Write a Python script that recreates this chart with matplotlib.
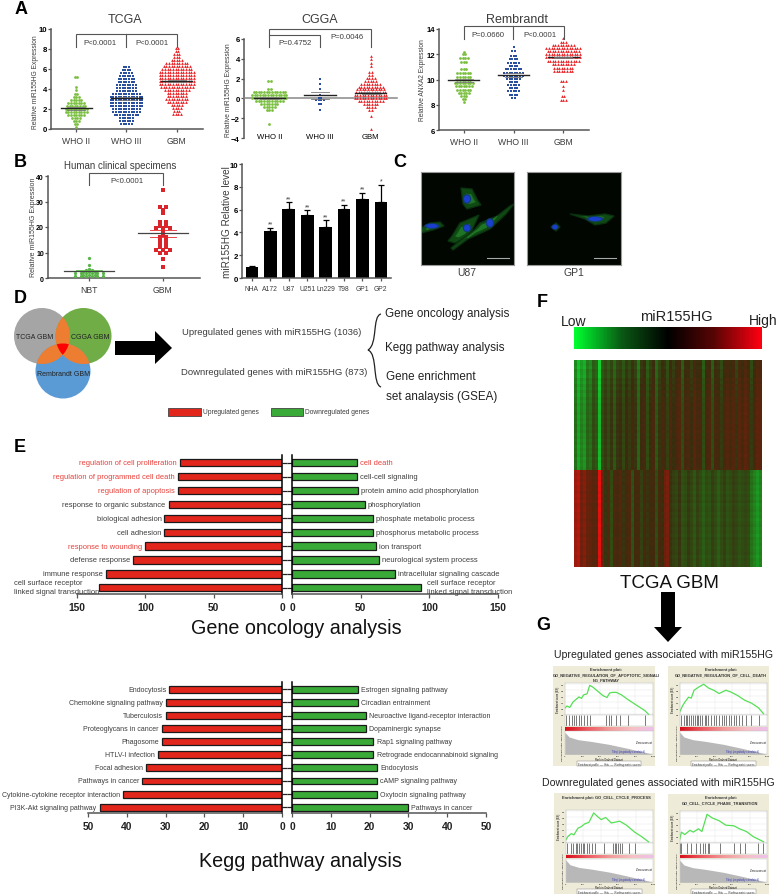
import matplotlib
matplotlib.use("Agg")
import matplotlib.pyplot as plt
import numpy as np
from matplotlib.colors import LinearSegmentedColormap
from matplotlib.patches import Circle, Ellipse, Polygon, Rectangle, PathPatch
from matplotlib.path import Path

plt.rcParams['font.family'] = ['Liberation Sans', 'DejaVu Sans']

W, H = 778, 895
GREEN, BLUE, RED = '#7ABF3F', '#2A4F9E', '#E8262A'
TXT = '#3c3c3c'
AX = '#555555'

groups = ['WHO II', 'WHO III', 'GBM']

# swarm rows: row level and number of points on it
tcga2_lv = [0.2, 0.5, 0.8, 1.1, 1.4, 1.7, 2.0, 2.3, 2.6, 2.9, 3.2, 3.5, 3.9, 4.2, 5.2]
tcga2_n = [1, 2, 3, 4, 7, 9, 9, 8, 7, 5, 3, 2, 1, 1, 2]
tcga3_lv = [0.5, 0.8, 1.1, 1.4, 1.7, 2.0, 2.3, 2.6, 2.9, 3.2, 3.5, 3.8, 4.1, 4.4, 4.7, 5.0, 5.3, 5.6, 5.9, 6.2]
tcga3_n = [5, 6, 6, 10, 11, 11, 13, 13, 13, 13, 11, 8, 8, 8, 7, 7, 6, 5, 4, 3]
tcgag_lv = [1.5, 1.8, 2.1, 2.4, 2.7, 3.0, 3.3, 3.6, 3.9, 4.2, 4.5, 4.8, 5.1, 5.4, 5.7, 6.0, 6.3, 6.6, 6.9, 7.2, 7.5, 7.8, 8.1]
tcgag_n = [4, 3, 4, 5, 8, 9, 8, 8, 10, 13, 14, 14, 14, 14, 14, 12, 11, 9, 5, 3, 3, 2, 2]
tcga_means = [2.05, 3.05, 4.8]

cgga2_lv = [-2.6, -1.2, -0.9, -0.6, -0.3, 0.0, 0.3, 0.6, 0.9, 1.8]
cgga2_n = [1, 3, 5, 7, 11, 14, 14, 13, 2, 2]
cgga3_lv = [-1.15, -0.55, -0.2, 0.0, 0.3, 0.9, 1.5, 2.0]
cgga3_n = [1, 2, 4, 2, 1, 1, 1, 1]
cggag_lv = [-3.1, -1.8, -1.2, -0.9, -0.6, -0.3, 0.0, 0.3, 0.6, 0.9, 1.2, 1.5, 1.8, 2.1, 2.4, 2.7, 3.3, 3.6, 4.0, 4.3]
cggag_n = [1, 1, 2, 4, 6, 10, 13, 13, 12, 11, 10, 8, 5, 4, 2, 2, 1, 1, 1, 1]
cgga_means = [0.05, 0.3, 0.55]

remb2_lv = [8.2, 8.45, 8.7, 8.95, 9.2, 9.45, 9.7, 9.95, 10.2, 10.5, 10.8, 11.4, 11.7, 12.0, 12.2]
remb2_n = [1, 2, 3, 5, 6, 7, 8, 6, 6, 6, 3, 3, 4, 2, 1]
remb3_lv = [8.55, 8.8, 9.05, 9.3, 9.55, 9.8, 10.05, 10.3, 10.55, 10.8, 11.05, 11.3, 11.6, 11.9, 12.25, 12.6]
remb3_n = [2, 4, 5, 4, 5, 4, 6, 8, 8, 7, 4, 5, 4, 3, 2, 1]
rembg_lv = [8.4, 8.7, 9.2, 9.5, 9.9, 10.65, 10.95, 11.25, 11.5, 11.75, 12.0, 12.25, 12.5, 12.75, 13.0, 13.25]
rembg_n = [3, 2, 1, 1, 3, 8, 8, 9, 13, 14, 14, 13, 14, 9, 3, 1]
remb_means = [9.95, 10.35, 11.75]

nbt_lv = [0.8, 1.3, 1.9, 2.4, 3.0, 3.5, 5.0, 8.0]
nbt_n = [6, 3, 6, 3, 2, 1, 1, 1]
gbm_lv = [4.2, 7.6, 9.8, 11.0, 12.0, 13.0, 14.0, 15.0, 16.0, 17.0, 18.0, 19.5, 20.5, 22.0, 25.5, 26.5, 28.0, 34.5]
gbm_n = [1, 1, 2, 3, 2, 2, 2, 2, 2, 1, 1, 3, 2, 2, 1, 1, 2, 1]

cell_lines = ['NHA', 'A172', 'U87', 'U251', 'Ln229', 'T98', 'GP1', 'GP2']
cell_vals = [1.0, 4.1, 6.05, 5.5, 4.5, 6.05, 6.95, 6.7]
cell_errs = [0.05, 0.3, 0.6, 0.45, 0.55, 0.35, 0.55, 1.45]
cell_stars = ['', '**', '**', '**', '**', '**', '**', '*']

go_up_names = ['regulation of cell proliferation', 'regulation of programmed cell death', 'regulation of apoptosis',
               'response to organic substance', 'biological adhesion', 'cell adhesion', 'response to wounding',
               'defense response', 'immune response', 'cell surface receptor\nlinked signal transduction']
go_up_vals = [75, 76, 76, 83, 86, 86, 100, 109, 129, 134]
go_up_hot = [0, 1, 2, 6]
go_dn_names = ['cell death', 'cell-cell signaling', 'protein amino acid phosphorylation', 'phosphorylation',
               'phosphate metabolic process', 'phosphorus metabolic process', 'ion transport',
               'neurological system process', 'intracellular signaling cascade',
               'cell surface receptor\nlinked signal transduction']
go_dn_vals = [47, 47, 48, 53, 59, 59, 61, 63, 75, 94]
go_dn_hot = [0]

kegg_up_names = ['Endocytosis', 'Chemokine signaling pathway', 'Tuberculosis', 'Proteoglycans in cancer', 'Phagosome',
                 'HTLV-I infection', 'Focal adhesion', 'Pathways in cancer', 'Cytokine-cytokine receptor interaction',
                 'PI3K-Akt signaling pathway']
kegg_up_vals = [29, 30, 30, 31, 31, 32, 35, 36, 41, 47]
kegg_dn_names = ['Estrogen signaling pathway', 'Circadian entrainment', 'Neuroactive ligand-receptor interaction',
                 'Dopaminergic synapse', 'Rap1 signaling pathway', 'Retrograde endocannabinoid signaling',
                 'Endocytosis', 'cAMP signaling pathway', 'Oxytocin signaling pathway', 'Pathways in cancer']
kegg_dn_vals = [17, 17, 19, 19, 21, 21, 22, 22, 22, 30]

# heatmap column levels, -1 green, +1 red
heat_up_cols = [-.6, -.9, -.7, -.8, -.5, -.6, -.3, -.4, -1.0, -.3, -.15, -.3, -.1, -.4, -.1, -.05, -.25, .0, -.15, .05,
                -.1, -.5, .0, .1, -.3, -.05, .1, -.4, -.1, .1, .05, -.2, .15, -.05, .1, .2, -.3, .1, .15, -.05, .25, .1,
                .1, -.3, .1, .15, -.3, .1, .05, -.15, .1, .2, .1, .2, -.1, .25, .1, .3, .15, -.15, .1, .3, .25]
heat_dn_cols = [.7, .8, .5, .6, .4, .35, .25, .3, 1.0, .5, -.1, .2, -.3, .15, .1, .2, -.1, .1, .15, -.35, .05, .1, -.2,
                .1, -.1, .05, .05, -.3, .1, -.05, .45, .55, -.1, -.2, -.25, -.1, -.35, -.3, -.15, -.25, -.4, -.2, -.3,
                -.45, -.3, -.35, -.2, -.3, -.45, -.3, -.2, -.35, -.3, -.2, -.25, -.35, -.3, -.25, -.3, -.6, -.7, -.8, -.7]
heat_up_rows = [-.12, -.1, -.14, -.06, -.08, -.1, -.02, -.06, .0, -.04, .02, -.02, .03, .0, .05, .02, .04, .06, .02,
                .05, .03, .07, .04, .08, .03, .06, .02, .05, .0, .04, .02, .06, .0, .04, .02, .05]
heat_dn_rows = [.05, .02, .06, .03, .07, .02, .04, .0, .05, .02, .06, .0, .03, .05, .01, .04, .0, .03, .06, .02, .04,
                .0, .05, .02, .04, .01, .03, .05, .0, .04, .02, .03]

# enrichment curves: rank and running score
es1_rank = [0, 26, 57, 94, 125, 162, 189, 215, 253, 283, 321, 377, 434, 479, 509, 547, 585, 641, 717, 811, 906, 951]
es1_val = [.2, .28, .23, .41, .49, .58, .53, .65, .68, .96, .9, .76, .62, .56, .71, .73, .73, .65, .49, .31, .13, 0]
es1_hits = [19, 49, 79, 106, 132, 162, 189, 219, 253, 283, 472, 500, 528, 577, 623, 717, 906]
es2_rank = [0, 31, 63, 102, 133, 165, 216, 275, 333, 392, 451, 529, 588, 667, 745, 824, 902, 961]
es2_val = [.07, .27, .42, .57, .54, .8, .9, 1.0, .87, .8, .69, .8, .74, .62, .47, .37, .22, .02]
es2_hits = [15, 45, 70, 90, 110, 130, 150, 175, 195, 215, 235, 260, 285, 305, 330, 360, 395, 420, 450, 480, 510,
            535, 560, 590, 620, 650, 680, 710, 760, 820, 910]
es3_rank = [0, 27, 65, 95, 141, 179, 218, 267, 321, 370, 408, 458, 523, 573, 618, 695, 790, 866, 950]
es3_val = [.05, .18, .27, .23, .45, .5, .59, .64, .95, .82, .73, .8, .62, .65, .68, .55, .32, .18, 0]
es3_hits = [20, 60, 90, 115, 135, 155, 175, 195, 215, 240, 270, 300, 340, 440, 540, 560, 580, 600, 625, 650, 730, 790]
es4_rank = [0, 20, 59, 118, 157, 216, 255, 314, 373, 451, 529, 620, 686, 765, 843, 961]
es4_val = [.08, .34, .26, .4, .34, .45, .36, .93, .81, .72, .57, .55, .45, .36, .19, .02]
es4_hits = [5, 15, 90, 130, 190, 230, 270, 290, 320, 340, 460, 620, 690, 750, 900, 960]
metric_rank = [0, 50, 150, 300, 500, 700, 900, 1000]
metric_val = [1.0, .78, .66, .58, .45, .28, .1, 0]

fig = plt.figure(figsize=(W / 100, H / 100), dpi=100)


def ax_px(x0, y0, x1, y1):
    return fig.add_axes([x0 / W, 1 - y1 / H, (x1 - x0) / W, (y1 - y0) / H])


def swarm(lv, n, step):
    xs, ys = [], []
    for y, c in zip(lv, n):
        for k in range(c):
            xs.append(step * (k - (c - 1) / 2))
            ys.append(y)
    return np.array(xs), np.array(ys)


def style(ax, fs=5.6):
    for s in ['top', 'right']:
        ax.spines[s].set_visible(False)
    for s in ['left', 'bottom']:
        ax.spines[s].set_color(AX)
        ax.spines[s].set_linewidth(1.1)
    ax.tick_params(length=2.2, width=0.9, color=AX, labelsize=fs, pad=0.8)
    ax.tick_params(axis='x', pad=2.5)
    ax.patch.set_alpha(0)


def scatter_panel(box, ylim, yticks, rows, means, sems, zero=False):
    ax = ax_px(*box)
    style(ax)
    cols = [GREEN, BLUE, RED]
    marks = ['o', 's', '^']
    for i, (lv, n) in enumerate(rows):
        dx, yy = swarm(lv, n, 0.052)
        ax.scatter(i + dx, yy, s=4.0, c=cols[i], marker=marks[i], linewidths=0, zorder=3)
        ax.plot([i - 0.31, i + 0.31], [means[i]] * 2, color='#222222', lw=1.0, zorder=4)
        ax.plot([i - 0.18, i + 0.18], [means[i] + sems[i]] * 2, color='#777777', lw=0.6, zorder=4)
        ax.plot([i - 0.18, i + 0.18], [means[i] - sems[i]] * 2, color='#777777', lw=0.6, zorder=4)
    ax.set_xlim(-0.5, 2.52)
    ax.set_ylim(*ylim)
    ax.set_yticks(yticks)
    ax.set_xticks([0, 1, 2])
    ax.set_xticklabels(groups, fontsize=6.2, color=TXT)
    for t in ax.get_yticklabels():
        t.set_fontweight('bold')
    if zero:
        ax.spines['bottom'].set_position(('data', 0))
        ax.spines['bottom'].set_color('#888888')
        ax.tick_params(axis='x', length=0, pad=25)
    return ax


scatter_panel((51, 29.5, 203, 130), (0, 10), [0, 2, 4, 6, 8, 10],
              [(tcga2_lv, tcga2_n), (tcga3_lv, tcga3_n), (tcgag_lv, tcgag_n)], tcga_means, [0.12, 0.13, 0.1])
scatter_panel((244, 40, 397, 139), (-4, 6), [-4, -2, 0, 2, 4, 6],
              [(cgga2_lv, cgga2_n), (cgga3_lv, cgga3_n), (cggag_lv, cggag_n)], cgga_means, [0.08, 0.35, 0.12], zero=True)
scatter_panel((439, 30, 589, 131), (6, 14), [6, 8, 10, 12, 14],
              [(remb2_lv, remb2_n), (remb3_lv, remb3_n), (rembg_lv, rembg_n)], remb_means, [0.12, 0.14, 0.06])

# B clinical specimens
ax = ax_px(48, 177, 200, 279)
style(ax, fs=5.0)
dx, yy = swarm(nbt_lv, nbt_n, 0.075)
ax.scatter(dx, yy, s=5.5, c='#59B548', marker='o', linewidths=0, zorder=3)
dx, yy = swarm(gbm_lv, gbm_n, 0.09)
ax.scatter(1 + dx, yy, s=5.5, c='#D9262C', marker='s', linewidths=0, zorder=3)
ax.plot([-.34, .34], [2.6, 2.6], color='#444444', lw=0.9, zorder=4)
ax.plot([-.18, .18], [3.1, 3.1], color='#59B548', lw=0.6, zorder=4)
ax.plot([.66, 1.34], [17.5, 17.5], color='#444444', lw=0.9, zorder=4)
ax.plot([.83, 1.17], [19, 19], color=RED, lw=0.6, zorder=4)
ax.plot([.83, 1.17], [16, 16], color=RED, lw=0.6, zorder=4)
ax.set_xlim(-0.554, 1.5)
ax.set_ylim(0, 40)
ax.set_yticks([0, 10, 20, 30, 40])
ax.set_xticks([0, 1])
ax.set_xticklabels(['NBT', 'GBM'], fontsize=6.2, color=TXT)
for t in ax.get_yticklabels():
    t.set_fontweight('bold')

# B cell lines
ax = ax_px(242, 165, 391, 279)
style(ax)
xpos = np.arange(len(cell_lines))
ax.bar(xpos, cell_vals, width=0.69, color='black', yerr=[np.zeros(8), cell_errs], capsize=2.5,
       error_kw={'lw': 0.9, 'capthick': 0.9, 'ecolor': 'black'})
for x, v, e, s in zip(xpos, cell_vals, cell_errs, cell_stars):
    ax.text(x, v + e + 0.02, s, ha='center', va='bottom', fontsize=5, color=TXT)
ax.set_xlim(-0.54, 7.55)
ax.set_ylim(0, 10)
ax.set_yticks([0, 2, 4, 6, 8, 10])
ax.set_xticks(xpos)
ax.set_xticklabels(cell_lines, fontsize=4.9, color=TXT)
for t in ax.get_yticklabels():
    t.set_fontweight('bold')


# C micrographs
def micrograph(box, cells, nuclei):
    ax = ax_px(*box)
    ax.set_xlim(box[0], box[2])
    ax.set_ylim(box[3], box[1])
    ax.set_facecolor('#010601')
    ax.set_xticks([])
    ax.set_yticks([])
    for s in ax.spines.values():
        s.set_color('#9a9a9a')
        s.set_linewidth(0.8)
    for pts in cells:
        poly = np.array(pts, float)
        poly = np.c_[box[0] + poly[:, 0], box[1] + poly[:, 1]]
        ax.add_patch(Polygon(poly, closed=True, fc='#125216', ec='#0b3210', lw=1.0, alpha=0.9))
        mid = poly.mean(axis=0)
        ax.add_patch(Polygon(mid + (poly - mid) * 0.5, closed=True, fc='#24812a', ec='none', alpha=0.8))
    for (x, y, w, h) in nuclei:
        ax.add_patch(Ellipse((box[0] + x, box[1] + y), w * 1.4, h * 1.4, fc='#123a7a', ec='none'))
        ax.add_patch(Ellipse((box[0] + x, box[1] + y), w, h, fc='#1a3fd0', ec='none'))
    ax.plot([box[2] - 27, box[2] - 5], [box[3] - 7, box[3] - 7], color='#a8a8a8', lw=0.8)


u87_cells = [[(40, 16), (51, 17), (57, 29), (60, 33), (46, 37), (42, 32)],
             [(0, 56), (9, 51), (19, 50), (23, 54), (12, 58), (0, 61)],
             [(31, 64), (39, 51), (58, 43), (52, 56), (47, 64), (34, 71), (27, 69)],
             [(59, 51), (76, 44), (89, 34), (93, 32), (85, 42), (69, 57), (47, 67), (32, 78), (30, 76), (45, 64), (54, 57)]]
u87_nuclei = [(46, 27, 6, 7), (11, 54, 11, 4), (46, 56, 6, 6), (69, 51, 6, 7)]
gp1_cells = [[(43, 42), (61, 44), (78, 42), (87, 44), (79, 51), (68, 53), (58, 47)],
             [(24, 55), (29, 51), (33, 55), (29, 59)]]
gp1_nuclei = [(68, 47, 12, 4), (28, 55, 5, 4)]
micrograph((421, 173, 514, 266), u87_cells, u87_nuclei)
micrograph((527, 173, 621, 266), gp1_cells, gp1_nuclei)


# E and Kegg butterfly bars
def butterfly(top, bottom, first, step, xmax, ticks, lx0, rx1, up_v, up_n, dn_v, dn_n, up_hot, dn_hot, fs):
    lim_t = -(first - top) / step
    lim_b = (bottom - first) / step
    for side, box in (('L', (lx0, top, 282, bottom)), ('R', (292, top, rx1, bottom))):
        ax = ax_px(*box)
        ax.patch.set_alpha(0)
        vals, names, hot = (up_v, up_n, up_hot) if side == 'L' else (dn_v, dn_n, dn_hot)
        y = np.arange(len(vals))
        col = '#E2261C' if side == 'L' else '#39A938'
        ax.barh(y, vals, height=0.52, color=col, edgecolor='#1a1a1a', lw=0.9)
        ax.set_ylim(lim_b, lim_t)
        ax.set_yticks(y)
        ax.set_yticklabels([])
        ax.set_xticks(ticks)
        ax.spines['top'].set_visible(False)
        ax.spines['bottom'].set_color(AX)
        ax.spines['bottom'].set_linewidth(1.1)
        ax.tick_params(axis='x', length=3, width=0.9, color=AX, labelsize=7.4, pad=2.8)
        for t in ax.get_xticklabels():
            t.set_fontweight('bold')
            t.set_color('#222222')
        if side == 'L':
            ax.set_xlim(xmax, 0)
            ax.spines['left'].set_visible(False)
            ax.spines['right'].set_linewidth(1.1)
            ax.yaxis.tick_right()
        else:
            ax.set_xlim(0, xmax)
            ax.spines['right'].set_visible(False)
            ax.spines['left'].set_linewidth(1.1)
        ax.tick_params(axis='y', length=3.5, width=0.9, color='#222222')
        for i, (v, nm) in enumerate(zip(vals, names)):
            c = '#E8403A' if i in hot else TXT
            off, ha = (-2.2, 'right') if side == 'L' else (2.2, 'left')
            if '\n' in nm:
                ax.annotate(nm, (v, i), xytext=(0 if side == 'L' else 4, 0.5), textcoords='offset points', ha=ha,
                            va='center', multialignment='left', fontsize=fs, color=c, linespacing=1.3,
                            annotation_clip=False)
            else:
                ax.annotate(nm, (v, i), xytext=(off, 0), textcoords='offset points', ha=ha, va='center',
                            fontsize=fs, color=c, annotation_clip=False)


butterfly(456, 595, 463.7, 13.9, 150, [0, 50, 100, 150], 77, 498, go_up_vals, go_up_names, go_dn_vals, go_dn_names,
          go_up_hot, go_dn_hot, 5.4)
butterfly(683, 814, 690.3, 13.1, 50, [0, 10, 20, 30, 40, 50], 88, 486, kegg_up_vals, kegg_up_names, kegg_dn_vals,
          kegg_dn_names, [], [], 5.05)

# F colour bar and heatmap
gbr = LinearSegmentedColormap.from_list('gbr', ['#00ff30', '#0a5a14', '#000000', '#5a0505', '#ff0010'])
ax = ax_px(574, 328, 762, 350)
ax.imshow(np.linspace(-1, 1, 188)[None, :], aspect='auto', cmap=gbr, vmin=-1, vmax=1)
ax.axis('off')

heat_cmap = LinearSegmentedColormap.from_list('heat', ['#12d030', '#266c18', '#3a2c0e', '#72200c', '#f01010'])
ax = ax_px(574, 361, 762, 568)
heat_up = np.add.outer(heat_up_rows, heat_up_cols)
heat_dn = np.add.outer(heat_dn_rows, heat_dn_cols)
ax.imshow(np.vstack([heat_up, heat_dn]), aspect='auto', cmap=heat_cmap, vmin=-1.1, vmax=1.1, interpolation='nearest')
ax.axis('off')

# G enrichment plots
pink = LinearSegmentedColormap.from_list('pink', ['#d8101c', '#ee5a62', '#f29a9a', '#f6c0c4', '#efc0ee'])


def gsea(box, title, rank, es, hits):
    x0, y0, x1, y1 = box
    w, h = x1 - x0, y1 - y0
    bg = ax_px(*box)
    bg.set_facecolor('#EEEBD8')
    bg.set_xticks([])
    bg.set_yticks([])
    for s in bg.spines.values():
        s.set_visible(False)
    bg.text(0.52, 0.985, title, transform=bg.transAxes, ha='center', va='top', fontsize=2.9, fontweight='bold',
            color='#333333', linespacing=1.25)
    ax1 = ax_px(x0 + .115 * w, y0 + .167 * h, x0 + .98 * w, y0 + .493 * h)
    ax1.plot(rank, es, color='#55E055', lw=0.9)
    ax1.set_xlim(0, 1000)
    ax1.set_ylim(-0.03, 1.05)
    ax1.grid(color='#e4e4e4', lw=0.3)
    ax1.set_xticks(range(0, 1001, 200))
    ax1.set_xticklabels([])
    ax1.set_yticks([0, .2, .4, .6, .8, 1.0])
    ax1.tick_params(length=0, labelsize=1.6, pad=0.4)
    ax1.set_ylabel('Enrichment score (ES)', fontsize=1.9, labelpad=0.8)
    ax2 = ax_px(x0 + .115 * w, y0 + .493 * h, x0 + .98 * w, y0 + .6 * h)
    ax2.vlines(hits, 0, 1, color='#444444', lw=0.5)
    ax2.set_xlim(0, 1000)
    ax2.set_ylim(0, 1)
    ax2.set_xticks([])
    ax2.set_yticks([])
    ax3 = ax_px(x0 + .115 * w, y0 + .61 * h, x0 + .98 * w, y0 + .645 * h)
    ax3.imshow(np.linspace(0, 1, 100)[None, :], aspect='auto', cmap=pink)
    ax3.axis('off')
    ax4 = ax_px(x0 + .115 * w, y0 + .65 * h, x0 + .98 * w, y0 + .883 * h)
    ax4.fill_between(metric_rank, 0, metric_val, color='#b8b8b8', lw=0)
    ax4.set_xlim(0, 1000)
    ax4.set_ylim(0, 1.05)
    ax4.set_xticks(range(0, 1001, 200))
    ax4.tick_params(length=0, labelsize=1.6, pad=0.3)
    ax4.set_yticks([])
    ax4.text(0.5, -0.19, 'Rank in Ordered Dataset', transform=ax4.transAxes, fontsize=1.8, ha='center', va='center')
    ax4.set_ylabel('Ranked list metric (Signal2Noise)', fontsize=1.7, labelpad=1.5)
    for a in (ax1, ax2, ax4):
        for s in a.spines.values():
            s.set_color('#bbbbbb')
            s.set_linewidth(0.3)
    ax4.text(0.9, 0.5, 'Zero cross at', transform=ax4.transAxes, fontsize=1.9, ha='center')
    ax4.text(0.72, 0.1, "'Neg' (negatively correlated)", transform=ax4.transAxes, fontsize=1.9, ha='center', color='#3333bb')
    bg.text(0.55, 0.024, 'Enrichment profile  —  Hits  —  Ranking metric scores', transform=bg.transAxes,
            fontsize=1.9, ha='center', va='center', color='#333333',
            bbox=dict(fc='white', ec='#777777', lw=0.3, pad=0.6))


gsea((553, 667, 655, 767), 'Enrichment plot:\nGO_NEGATIVE_REGULATION_OF_APOPTOTIC_SIGNALI\nNG_PATHWAY', es1_rank, es1_val, es1_hits)
gsea((668, 667, 769, 767), 'Enrichment plot:\nGO_NEGATIVE_REGULATION_OF_CELL_DEATH', es2_rank, es2_val, es2_hits)
gsea((554, 794, 655, 895), 'Enrichment plot: GO_CELL_CYCLE_PROCESS', es3_rank, es3_val, es3_hits)
gsea((668, 795, 769, 895), 'Enrichment plot:\nGO_CELL_CYCLE_PHASE_TRANSITION', es4_rank, es4_val, es4_hits)

# overlay in pixel coordinates for annotation and diagram pieces
ov = fig.add_axes([0, 0, 1, 1], zorder=20)
ov.set_xlim(0, W)
ov.set_ylim(H, 0)
ov.axis('off')


def T(x, y, s, fs=5.6, ha='center', color=TXT, **kw):
    ov.text(x, y, s, fontsize=fs, ha=ha, va='center', color=color, **kw)


def bracket(pts):
    xs, ys = zip(*pts)
    ov.plot(xs, ys, color='#555555', lw=0.8, solid_joinstyle='miter')


for x, y, s in [(21, 9, 'A'), (20, 162, 'B'), (400, 162, 'C'), (20, 298, 'D'), (20, 448, 'E'), (542, 302, 'F'), (543, 625, 'G')]:
    T(x, y, s, fs=13, color='black', fontweight='bold')

T(125, 20, 'TCGA', 9)
T(320, 20, 'CGGA', 9)
T(517, 20, 'Rembrandt', 9)
T(120, 166, 'Human clinical specimens', 7)

bracket([(76, 48), (76, 35), (177, 35), (177, 48)])
bracket([(126, 35), (126, 48)])
T(100, 43, 'P<0.0001')
T(152, 43, 'P<0.0001')
bracket([(269, 48), (269, 29.5), (371, 29.5), (371, 48)])
bracket([(269, 36), (320, 36), (320, 48)])
T(295, 43, 'P=0.4752')
T(347, 37, 'P=0.0046')
bracket([(464, 40), (464, 27), (564, 27), (564, 40)])
bracket([(513, 27), (513, 40)])
T(488, 35, 'P=0.0660')
T(540, 35, 'P<0.0001')
bracket([(89, 186), (89, 174), (163, 174), (163, 186)])
T(127, 181, 'P<0.0001')

T(36, 82, 'Relative miR155HG Expression', 4.8, rotation=90)
T(229, 90, 'Relative miR155HG Expression', 4.8, rotation=90)
T(423, 80, 'Relative ANXA2 Expression', 4.8, rotation=90)
T(34, 227, 'Relative miR155HG Expression', 5, rotation=90)
T(227, 222, 'miR155HG Relative level', 7.2, rotation=90)

T(467, 273, 'U87', 7.5)
T(574, 273, 'GP1', 7.5)

# D Venn
A, B, C = ((42, 337), 28), ((83.5, 337), 28), ((63, 372), 27.5)
for (c, r), col in ((A, '#A5A5A5'), (B, '#70AD47'), (C, '#5B9BD5')):
    ov.add_patch(Circle(c, r, fc=col, ec='none'))


def lens(p, q):
    a = np.linspace(0, 2 * np.pi, 360)
    ca = np.c_[p[0][0] + p[1] * np.cos(a), p[0][1] + p[1] * np.sin(a)]
    cb = np.c_[q[0][0] + q[1] * np.cos(a), q[0][1] + q[1] * np.sin(a)]
    ina = ca[np.hypot(ca[:, 0] - q[0][0], ca[:, 1] - q[0][1]) < q[1]]
    inb = cb[np.hypot(cb[:, 0] - p[0][0], cb[:, 1] - p[0][1]) < p[1]]
    pts = np.vstack([ina, inb])
    mid = pts.mean(axis=0)
    return pts[np.argsort(np.arctan2(pts[:, 1] - mid[1], pts[:, 0] - mid[0]))]


for p, q in ((A, B), (A, C), (B, C)):
    ov.add_patch(Polygon(lens(p, q), fc='#ED7D31', ec='none'))
red = Polygon(lens(A, B), fc='#FF0000', ec='none')
ov.add_patch(red)
clip = Circle(C[0], C[1], transform=ov.transData)
red.set_clip_path(clip)

T(35, 337, 'TCGA GBM', 5, color='#222222')
T(90, 337, 'CGGA GBM', 5, color='#222222')
T(64, 374, 'Rembrandt GBM', 5, color='#222222')

ov.add_patch(Polygon([(115, 342), (155, 342), (155, 332), (172, 349), (155, 365), (155, 356), (115, 356)], fc='black', ec='none'))
T(182, 332, 'Upregulated genes with miR155HG (1036)', 6.8, ha='left')
T(181, 372, 'Downregulated genes with miR155HG (873)', 6.8, ha='left')
brace = Path([(381, 315), (372, 317), (378, 345), (368, 351), (378, 355), (372, 385), (381, 388)],
             [Path.MOVETO, Path.CURVE4, Path.CURVE4, Path.CURVE4, Path.CURVE4, Path.CURVE4, Path.CURVE4])
ov.add_patch(PathPatch(brace, fc='none', ec='#222222', lw=0.9))
T(385, 314, 'Gene oncology analysis', 8.4, ha='left', color='#222222')
T(385, 348, 'Kegg pathway analysis', 8.4, ha='left', color='#222222')
T(386, 377, 'Gene enrichment', 8.4, ha='left', color='#222222')
T(386, 397, 'set analaysis (GSEA)', 8.4, ha='left', color='#222222')

ov.add_patch(Rectangle((168, 409), 33, 8, fc='#E2261C', ec='#444444', lw=0.6))
T(203, 413, 'Upregulated genes', 4.8, ha='left')
ov.add_patch(Rectangle((271, 409), 32, 8, fc='#39A938', ec='#444444', lw=0.6))
T(305, 413, 'Downregulated genes', 4.8, ha='left')

T(296, 628, 'Gene oncology analysis', 14.2, color='#111111')
T(300, 862, 'Kegg pathway analysis', 14.2, color='#111111')

T(561, 322, 'Low', 10, ha='left', color='#222222')
T(676, 317, 'miR155HG', 10.5, color='#222222')
T(778, 321, 'High', 10, ha='right', color='#222222')
T(669, 583, 'TCGA GBM', 13.5, color='#111111')
ov.add_patch(Polygon([(661, 593), (675, 593), (675, 628), (682, 628), (668, 643), (654, 628), (661, 628)], fc='black', ec='none'))
T(554, 655, 'Upregulated genes associated with miR155HG', 7.6, ha='left', color='#222222')
T(542, 783, 'Downregulated genes associated with miR155HG', 7.6, ha='left', color='#222222')

fig.savefig('out.png', dpi=100, facecolor='white')
